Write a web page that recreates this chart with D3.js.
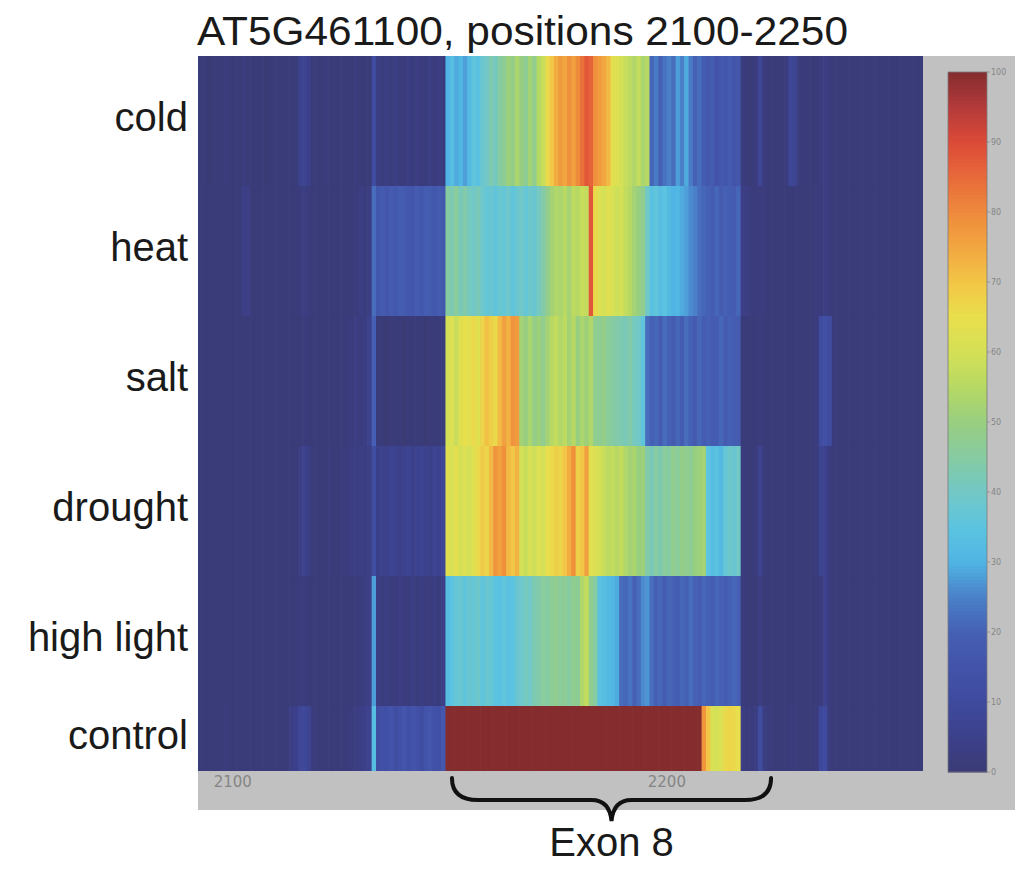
<!DOCTYPE html>
<html><head><meta charset="utf-8">
<script src="https://cdn.jsdelivr.net/npm/d3@7"></script>
<style>body{margin:0;background:#fff}</style>
</head><body><svg id="c" width="1015" height="871"></svg>
<script>
// ---------- data ----------
const titleText = "AT5G461100, positions 2100-2250";
const rowLabels = ["cold", "heat", "salt", "drought", "high light", "control"];
const firstPosition = 2092;
const xTicks = [2100, 2200];
const colorTicks = [0, 10, 20, 30, 40, 50, 60, 70, 80, 90, 100];
const exonLabel = "Exon 8";
const braceRange = [2150.5, 2224];

// coverage values, positions 2092-2148 (left), 2149-2216 (exon), 2217-2258 (right)
const coldLeft  = [1,1,0,1,1,1,2,1,1,1,2,1,1,1,1,0,1,1,1,1,1,1,1, 6,7,5, 1,1,1,2,1,1,1,1,1,1,2,1,1,1, 11, 3,2,3,2,3,2,2,3,2,3,2,2,3,2,3,2];
const coldExon  = [30,33,29,31,28,32,36,34,38,40,43,41,45,47,51,49,53,50,47,52,48,55,58,66,70,74,77,75,79,76,80,84,88,86,79,77,75,72,64,62,60,58,56,54,57,53,55,21,24,20,23,25,22,28,25,29,24,20,22,19,17,18,15,17,16,18,15,16];
const coldRight = [2,1,1,2,8,2,1,1,1,1,2,8,7,2,1,1,1,1,2,3,2,1,1,1,1,1,1,1,1,1,1,1,1,1,1,1,1,1,1,1,1,1];

const heatLeft  = [1,1,1,1,1,1,1,1,1,1,4,4,1,1,1,1,1,1,1,1,1,1,1, 2,3,2, 1,1,1,1,1,1,1,1,1,1,2,3,2,3, 22, 17,18,16,18,17,19,18,17,16,18,17,19,18,17,18,17];
const heatExon  = [45,43,46,42,44,41,40,42,39,37,38,36,38,37,39,36,38,40,37,39,38,41,44,48,52,54,53,55,52,56,55,58,57,88,66,62,60,63,61,59,60,57,55,52,50,48,40,34,36,33,35,32,30,31,29,28,26,25,22,21,20,19,21,18,20,19,18,21];
const heatRight = [4,3,2,2,2,2,1,1,1,1,1,1,1,1,1,1,1,2,2,3,2,1,1,1,1,1,1,1,1,1,1,1,1,1,1,1,1,1,1,1,1,1];

const saltLeft  = [1,1,1,1,1,1,1,1,1,1,1,1,1,1,1,1,1,1,1,1,1,1,1, 1,2,1, 1,1,1,1,1,1,1,1,2,2,3,2,3,6, 20, 1,1,0,1,1,1,0,1,1,1,1,0,1,1,1,2];
const saltExon  = [60,62,58,63,65,64,66,63,67,71,68,66,72,76,73,78,77,52,50,53,49,51,48,52,55,57,54,56,52,55,50,53,51,54,48,47,49,46,45,44,43,42,44,41,40,36,22,20,21,19,22,20,18,21,19,22,20,18,21,19,20,18,19,21,18,20,19,18];
const saltRight = [1,1,1,1,2,1,1,1,1,1,1,1,1,1,1,1,1,2,11,13,11,2,1,1,1,1,1,1,1,1,1,1,1,1,1,1,1,1,1,1,1,1];

const droughtLeft  = [1,1,1,1,1,1,1,1,1,1,1,1,1,1,1,1,1,1,1,1,1,1,1, 4,6,4, 1,1,1,1,2,1,1,2,2,3,3,4,3,4, 12, 5,6,5,7,6,5,6,7,5,6,7,6,5,7,6,8];
const droughtExon  = [63,61,64,60,62,60,63,66,69,67,72,78,76,79,72,70,73,60,58,61,59,62,60,65,66,68,67,70,74,79,68,70,76,64,62,60,58,56,57,55,57,54,52,53,50,51,44,42,45,43,46,45,48,46,49,48,47,50,51,52,35,33,34,32,37,39,38,40];
const droughtRight = [2,1,1,2,6,2,1,1,1,1,1,1,1,1,1,1,1,2,7,6,2,1,1,1,1,1,1,1,1,1,1,1,1,1,1,1,1,1,1,1,1,1];

const highLightLeft  = [1,1,1,1,1,1,1,1,1,1,1,1,1,1,1,1,1,1,1,1,1,1,1, 2,2,1, 1,1,1,1,1,1,1,1,1,1,2,2,3,4, 28, 3,2,3,2,2,3,2,2,3,2,3,2,2,3,2,4];
const highLightExon  = [33,35,37,38,36,38,37,39,36,38,37,35,34,36,34,35,38,39,41,40,43,44,46,45,47,48,46,47,45,48,47,54,57,48,45,34,33,32,31,29,22,21,23,20,22,26,27,22,20,21,19,21,20,19,21,20,22,20,19,21,20,19,21,20,19,20,21,20];
const highLightRight = [2,1,1,1,3,1,1,1,1,1,1,1,1,1,1,1,1,1,2,6,2,1,1,1,1,1,1,1,1,1,1,1,1,1,1,1,1,1,1,1,1,1];

const controlLeft  = [1,1,1,1,1,1,2,1,1,1,1,1,1,1,1,1,1,1,1,1,1,4,5, 8,9,7, 2,1,1,1,1,1,1,1,2,2,3,4,5,6, 33, 12,14,13,15,12,14,16,13,15,14,12,15,16,14,13,17];
const controlExon  = [100,100,100,100,100,100,100,100,100,100,100,100,100,100,100,100,100,100,100,100,100,100,100,100,100,100,100,100,100,100,100,100,100,100,100,100,100,100,100,100,100,100,100,100,100,100,100,100,100,100,100,100,100,100,100,100,100,100,100,78,70,61,60,62,66,67,66,65];
const controlRight = [3,2,2,3,11,3,2,1,1,1,1,2,2,1,1,1,1,2,9,10,2,1,1,1,1,1,1,1,1,1,1,1,1,1,1,1,1,1,1,1,1,1];

// colour stops
const colorStops  = [0,5,10,15,20,25,30,35,40,45,50,55,60,65,70,75,80,85,90,95,100];
const colorValues = ["#3a3a75","#3c408a","#3f4a9e","#4253a9","#4560b4","#4a80c8","#50b4e4","#5cc4e0","#72c8c6","#86cba2","#98ce80","#b7d964","#d4e056","#e8df4c","#f2c646","#f2a640","#ee8a3c","#e86a3a","#dc4a38","#b43a3a","#842c2e"];

const rows = [
  coldLeft.concat(coldExon, coldRight),
  heatLeft.concat(heatExon, heatRight),
  saltLeft.concat(saltExon, saltRight),
  droughtLeft.concat(droughtExon, droughtRight),
  highLightLeft.concat(highLightExon, highLightRight),
  controlLeft.concat(controlExon, controlRight)
];

// ---------- drawing ----------
const svg = d3.select("#c");
const nCols = d3.max(rows, r => r.length);
const plot = {left: 198, right: 923, top: 56, bottom: 771};

const x = d3.scaleLinear().domain([firstPosition, firstPosition + nCols]).range([plot.left, plot.right]);
const y = d3.scaleLinear().domain([-0.5, rowLabels.length - 1]).range([plot.top, plot.bottom]);
const color = d3.scaleLinear().domain(colorStops).range(colorValues).interpolate(d3.interpolateRgb).clamp(true);

// grey figure background
svg.append("rect").attr("x", plot.left).attr("y", plot.top).attr("width", 1015 - plot.left).attr("height", 810 - plot.top).attr("fill", "#c1c1c1");

svg.append("clipPath").attr("id", "clip").append("rect")
  .attr("x", plot.left).attr("y", plot.top).attr("width", plot.right - plot.left).attr("height", plot.bottom - plot.top);

const cells = [];
rows.forEach((r, ri) => r.forEach((v, ci) => cells.push({row: ri, pos: firstPosition + ci, v})));

svg.append("g").attr("clip-path", "url(#clip)")
  .selectAll("rect").data(cells).join("rect")
  .attr("x", d => x(d.pos))
  .attr("width", d => x(d.pos + 1) - x(d.pos) + 0.6)
  .attr("y", d => y(d.row - 0.5))
  .attr("height", d => y(d.row + 0.5) - y(d.row - 0.5) + 0.6)
  .attr("fill", d => color(d.v));

// x tick labels
svg.append("g").selectAll("text").data(xTicks).join("text")
  .attr("x", d => x(d)).attr("y", 787)
  .attr("text-anchor", "middle")
  .attr("font-family", "DejaVu Sans").attr("font-size", 15)
  .attr("fill", "#858585").text(d => d);

// row labels
svg.append("g").selectAll("text").data(rowLabels).join("text")
  .attr("x", 188)
  .attr("y", (d, i) => (y(Math.max(i - 0.5, -0.5)) + y(Math.min(i + 0.5, rowLabels.length - 1))) / 2 - 4)
  .attr("dominant-baseline", "central")
  .attr("text-anchor", "end")
  .attr("font-family", "Liberation Sans, Arial, sans-serif").attr("font-size", 40)
  .attr("fill", "#1a1a1a").text(d => d);

// title
svg.append("text").attr("x", 197).attr("y", 45)
  .attr("font-family", "Liberation Sans, Arial, sans-serif").attr("font-size", 40)
  .attr("textLength", 651).attr("lengthAdjust", "spacingAndGlyphs")
  .attr("fill", "#1a1a1a").text(titleText);

// colour bar
const cb = {x: 948, w: 39};
const cy = d3.scaleLinear().domain([0, 100]).range([772, 72]);
const cbSteps = d3.range(0, 100, 0.5);
svg.append("g").selectAll("rect").data(cbSteps).join("rect")
  .attr("x", cb.x).attr("width", cb.w)
  .attr("y", d => cy(d + 0.5)).attr("height", d => cy(d) - cy(d + 0.5) + 0.5)
  .attr("fill", d => color(d + 0.25));
svg.append("rect").attr("x", cb.x).attr("y", cy(100)).attr("width", cb.w).attr("height", cy(0) - cy(100))
  .attr("fill", "none").attr("stroke", "#7a7a7a").attr("stroke-width", 0.8);
const cAxis = svg.append("g");
cAxis.selectAll("line").data(colorTicks).join("line")
  .attr("x1", cb.x + cb.w).attr("x2", cb.x + cb.w + 3)
  .attr("y1", d => cy(d)).attr("y2", d => cy(d))
  .attr("stroke", "#8a8a8a").attr("stroke-width", 0.8);
cAxis.selectAll("text").data(colorTicks).join("text")
  .attr("x", cb.x + cb.w + 4).attr("y", d => cy(d))
  .attr("dominant-baseline", "central")
  .attr("font-family", "DejaVu Sans").attr("font-size", 8)
  .attr("fill", "#858585").text(d => d);

// brace for exon
const bx0 = x(braceRange[0]), bx1 = x(braceRange[1]), bm = (bx0 + bx1) / 2;
const bTop = 778, bMid = 800, bTip = 821;
const bracePath = `M${bx0},${bTop} Q${bx0},${bMid} ${bx0 + 26},${bMid} L${bm - 20},${bMid} Q${bm - 2},${bMid} ${bm},${bTip} Q${bm + 2},${bMid} ${bm + 20},${bMid} L${bx1 - 26},${bMid} Q${bx1},${bMid} ${bx1},${bTop}`;
svg.append("path").attr("d", bracePath).attr("fill", "none").attr("stroke", "#111").attr("stroke-width", 4).attr("stroke-linecap", "round");

svg.append("text").attr("x", bm).attr("y", 856).attr("text-anchor", "middle")
  .attr("font-family", "Liberation Sans, Arial, sans-serif").attr("font-size", 40)
  .attr("fill", "#1a1a1a").text(exonLabel);
</script></body></html>
